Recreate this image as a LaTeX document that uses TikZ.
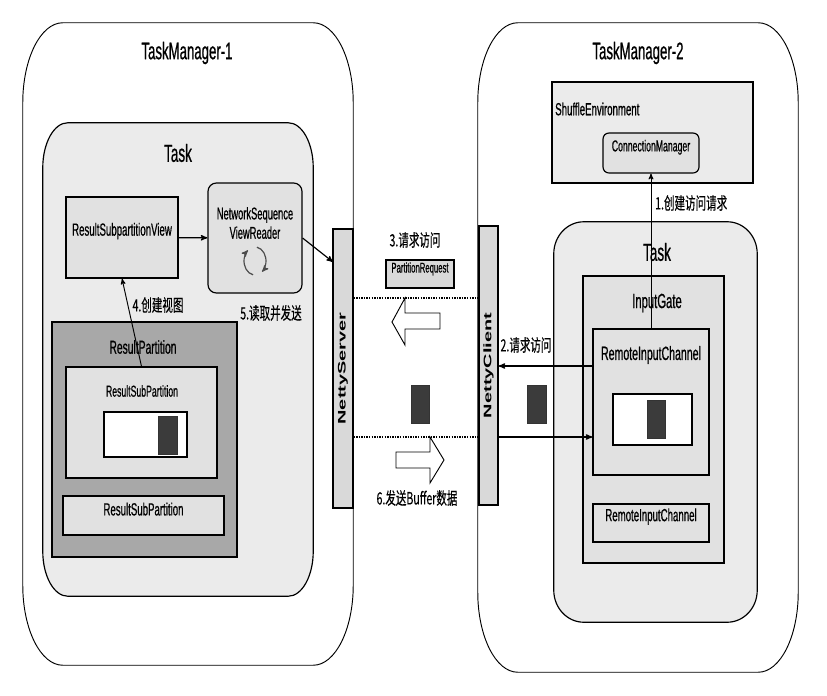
\documentclass[tikz,border=0pt]{standalone}
\usepackage{fontspec}
\usepackage{graphicx}
\setmainfont{Liberation Sans}[FakeStretch=0.55,FakeBold=0.6]
\newfontfamily\cjk{Noto Sans CJK SC}[FakeStretch=0.62,FakeBold=0.3]
\newfontfamily\barfont{Liberation Sans}
\usetikzlibrary{arrows,fit,calc}
\tikzset{>=stealth'}

\definecolor{taskgray}{HTML}{EBEBEB}
\definecolor{boxgray}{HTML}{E1E1E1}
\definecolor{partgray}{HTML}{A8A8A8}
\definecolor{bargray}{HTML}{D9D9D9}
\definecolor{blockgray}{HTML}{3B3B3B}

% box with elliptical corners round a named node: style, node, x radius, y radius
\newcommand\ellbox[4]{%
  \path[#1] ($(#2.north west)+(0,#4)$)
    arc[start angle=180, end angle=270, x radius=#3, y radius=#4]
    -- ($(#2.north east)+(-#3,0)$)
    arc[start angle=270, end angle=360, x radius=#3, y radius=#4]
    -- ($(#2.south east)+(0,-#4)$)
    arc[start angle=0, end angle=90, x radius=#3, y radius=#4]
    -- ($(#2.south west)+(#3,0)$)
    arc[start angle=90, end angle=180, x radius=#3, y radius=#4]
    -- cycle;}

\begin{document}
\begin{tikzpicture}[x=0.03cm,y=-0.03cm]
\tikzset{
  box/.style={draw, line width=1pt, inner sep=0pt, fill=boxgray},
  area/.style={inner sep=0pt},
  mgr/.style={draw, line width=0.8pt, fill=white},
  taskbox/.style={draw, line width=1pt, fill=taskgray},
  buf/.style={box, fill=white},
  blk/.style={draw=black!80, fill=blockgray, inner sep=0pt},
  bar/.style={box, fill=bargray},
  txt/.style={inner sep=0pt, font=\fontsize{#1}{#1}\selectfont},
  cn/.style={inner sep=0pt, font=\cjk\fontsize{14.5}{16}\selectfont},
  vtxt/.style={inner sep=0pt, rotate=90, font=\barfont\bfseries\fontsize{17}{17}\selectfont},
  flow/.style={->, line width=1pt},
  link/.style={densely dotted, line width=1.2pt},
  hollow/.style={draw, line width=0.8pt, fill=white},
  icon/.style={->, line width=1pt, black!70}
}

\useasboundingbox (0,0) rectangle (827,696);

\node[area, fit={(23,23) (353,665)}] (tm1) {};
\node[area, fit={(478,23) (798,672)}] (tm2) {};
\ellbox{mgr}{tm1}{40}{80}
\ellbox{mgr}{tm2}{40}{80}

% TaskManager-1
\node[txt=20.5] (tm1title) at (187,53) {TaskManager-1};
\node[area, fit={(43,123) (313,596)}] (task1) {};
\ellbox{taskbox}{task1}{25}{45}
\node[txt=21] (task1title) at (178,153) {Task};
\node[box, fit={(66,197) (178,278)}, txt=15] (rsv) {ResultSubpartitionView};
\node[box, rounded corners=0.25cm, fit={(208,183) (302,293)}] (nsvr) {};
\node[txt=14.5, align=center] (nsvrtxt) at (255,223) {NetworkSequence\\[2pt]ViewReader};
\coordinate (ico) at (255,261);
\draw[icon] (ico) ++(100:11 and 14) arc[start angle=100, end angle=230, x radius=11, y radius=14];
\draw[icon] (ico) ++(280:11 and 14) arc[start angle=280, end angle=410, x radius=11, y radius=14];
\node[box, fill=partgray, fit={(52,322) (237,557)}] (rp) {};
\node[txt=16] (rptitle) at (143,347) {ResultPartition};
\node[box, fit={(66,367) (217,478)}] (rsp1) {};
\node[txt=13.5] (rsp1title) at (142,391) {ResultSubPartition};
\node[buf, fit={(104,412) (187,457)}] (buf1) {};
\node[blk, fit={(158,416) (177,454)}] (blk1) {};
\node[box, fit={(63,496) (224,535)}, txt=15] (rsp2) {ResultSubPartition};

% TaskManager-2
\node[txt=20.5] (tm2title) at (638,53) {TaskManager-2};
\node[box, fill=taskgray, fit={(552,82) (753,183)}] (shuf) {};
\node[txt=15, anchor=west] (shuftitle) at (555,109) {ShuffleEnvironment};
\node[box, rounded corners=0.18cm, fit={(603,133) (699,173)}, txt=13.5] (cm) {ConnectionManager};
\node[area, fit={(554,222) (757,622)}] (task2) {};
\ellbox{taskbox}{task2}{30}{32}
\node[txt=21] (task2title) at (657,252) {Task};
\node[box, fit={(583,276) (724,563)}] (ig) {};
\node[txt=17.5] (igtitle) at (657,303) {InputGate};
\node[box, fit={(593,329) (709,475)}] (ric1) {};
\node[txt=16.4] (ric1title) at (651,355) {RemoteInputChannel};
\node[buf, fit={(613,394) (692,445)}] (buf2) {};
\node[blk, fit={(647,400) (665,438)}] (blk2) {};
\node[box, fit={(593,504) (709,542)}, txt=15] (ric2) {RemoteInputChannel};

% Netty
\node[bar, fit={(333,229) (353,508)}] (nsrv) {};
\node[vtxt] (nsrvtxt) at (nsrv) {\scalebox{1}[0.55]{NettyServer}};
\node[bar, fit={(479,226) (498,505)}] (ncli) {};
\node[vtxt] (nclitxt) at (ncli) {\scalebox{1}[0.55]{NettyClient}};

% between the two
\node[cn] (l3) at (415,240) {3.请求访问};
\node[box, fill=bargray, fit={(386,260) (454,288)}, txt=12] (preq) {PartitionRequest};
\node[blk, fit={(411,385) (429,423)}] (blkm) {};
\node[blk, fit={(527,385) (546,423)}] (blkr) {};
\node[cn] (l6) at (417,498) {6.发送Buffer数据};
\node[cn] (l5) at (271,313) {5.读取并发送};
\node[cn] (l4) at (158,305) {4.创建视图};
\node[cn, anchor=west] (l1) at (655,203) {1.创建访问请求};
\node[cn] (l2) at (526,345) {2.请求访问};

\draw[hollow] (392,322) -- (405,298) -- (405,313) -- (440,313) -- (440,329) -- (405,329) -- (405,345) -- cycle;
\draw[hollow] (444,460) -- (430,437) -- (430,452) -- (396,452) -- (396,468) -- (430,468) -- (430,483) -- cycle;

\coordinate (srvin) at (333,262);
\coordinate (dl1) at (0,298);
\coordinate (dl2) at (0,437);
\coordinate (q2) at (0,366);

\draw[flow] (rsv) -- (nsvr);
\draw[flow] (nsvr.east) -- (srvin);
\draw[flow, line width=0.8pt] (rsp1.north) -- (rsv.south);
\draw[flow, line width=0.8pt] (ric1.north) -- (cm.south);
\draw[flow] (ric1.west |- q2) -- (ncli.east |- q2);
\draw[flow] (ncli.east |- dl2) -- (ric1.west |- dl2);
\draw[link] (nsrv.east |- dl1) -- (ncli.west |- dl1);
\draw[link] (nsrv.east |- dl2) -- (ncli.west |- dl2);
\end{tikzpicture}
\end{document}
